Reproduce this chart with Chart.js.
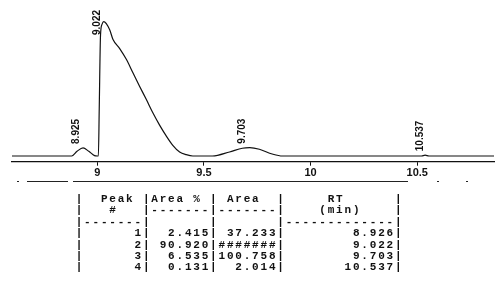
<!DOCTYPE html>
<html><head><meta charset="utf-8">
<script src="https://cdn.jsdelivr.net/npm/chart.js@4"></script>
<style>
html,body{margin:0;padding:0;background:#fff;}
#wrap{position:relative;width:495px;height:305px;overflow:hidden;background:#fff;}
#c{position:absolute;left:0;top:0;}
#tbl{position:absolute;left:75.7px;top:194px;margin:0;font:bold 11px 'Liberation Mono',monospace;letter-spacing:1.8px;line-height:11.4px;color:#111;white-space:pre;}
</style></head><body>
<div id="wrap"><canvas id="c" width="495" height="200" style="width:495px;height:200px"></canvas><pre id="tbl"></pre></div>
<script>
// Chromatogram trace (retention time in min, relative signal)
const times  = [8.60, 8.88, 8.905, 8.933, 8.96, 8.987, 9.000, 9.005, 9.009, 9.015, 9.022, 9.030, 9.058, 9.073, 9.105, 9.136, 9.167, 9.198, 9.230, 9.261, 9.292, 9.323, 9.354, 9.386, 9.417, 9.448, 9.540, 9.620, 9.680, 9.715, 9.760, 9.820, 9.868, 10.520, 10.537, 10.555, 10.86];
const signal = [0,    0,    3.5,   6,     3.5,  0.3,   0,     0,     35,    90,    98,    100,   94,    87,    80,    72,    62,    52,    42,    32,    23,    15,    8,     3,     1,     0,     0,     3,     5.8,   6.2,   5,     1.5,   0,     0,      0.6,    0,      0];
// Peak labels printed on the trace
const peakTimes  = [8.925, 9.022, 9.703, 10.537];
const peakLabels = ['8.925', '9.022', '9.703', '10.537'];
// Axis ticks
const axisTicks = [9, 9.5, 10, 10.5];
// Report table
const tblPeak    = ['1', '2', '3', '4'];
const tblAreaPct = ['2.415', '90.920', '6.535', '0.131'];
const tblArea    = ['37.233', '#######', '100.758', '2.014'];
const tblRT      = ['8.926', '9.022', '9.703', '10.537'];

const X_MIN = 8.6, X_MAX = 10.86;
const LOWER_RULE_DASH = [0,5, 2,8, 41,5, 335,29, 2,27, 2,40];

function lp(s, n){ s = String(s); while (s.length < n) s = ' ' + s; return s; }
const lines = [
  '|  Peak |Area % | Area  |     RT      |',
  '|   #   |-------|-------|    (min)    |',
  '|-------|       |       |-------------|'
];
for (let i = 0; i < tblPeak.length; i++) {
  lines.push('|' + lp(tblPeak[i],7) + '|' + lp(tblAreaPct[i],7) + '|' + lp(tblArea[i],7) + '|' + lp(tblRT[i],13) + '|');
}
document.getElementById('tbl').textContent = lines.join('\n');

function peakValue(t){
  let best = 0;
  for (let i = 0; i < times.length; i++) {
    if (Math.abs(times[i] - t) <= 0.03 && signal[i] > best) best = signal[i];
  }
  return best;
}

const peakLabelPlugin = {
  id: 'peakLabels',
  afterDatasetsDraw(chart){
    const ctx = chart.ctx, xs = chart.scales.x, ys = chart.scales.y, area = chart.chartArea;
    ctx.save();
    ctx.font = 'bold 10px "Liberation Sans", Arial, sans-serif';
    ctx.fillStyle = '#111';
    ctx.textAlign = 'left';
    ctx.textBaseline = 'alphabetic';
    peakLabels.forEach((lab, i) => {
      const px = xs.getPixelForValue(peakTimes[i]) - 2.5;
      const w = ctx.measureText(lab).width;
      let bottom = ys.getPixelForValue(peakValue(peakTimes[i])) - 4;
      if (bottom - w < area.top) bottom = area.top + w + 5;
      ctx.save();
      ctx.translate(px, bottom);
      ctx.rotate(-Math.PI / 2);
      ctx.fillText(lab, 0, 0);
      ctx.restore();
    });
    ctx.restore();
  }
};

// dashed rule along the top edge of the secondary (x2) axis
const lowerRulePlugin = {
  id: 'lowerRule',
  afterDraw(chart){
    const s = chart.scales.x2, ctx = chart.ctx;
    const y = Math.round(s.top) + 0.5;
    ctx.save();
    ctx.strokeStyle = '#222';
    ctx.lineWidth = 1.2;
    ctx.setLineDash(LOWER_RULE_DASH);
    ctx.beginPath();
    ctx.moveTo(s.left, y);
    ctx.lineTo(s.right, y);
    ctx.stroke();
    ctx.restore();
  }
};

new Chart(document.getElementById('c'), {
  type: 'line',
  data: {
    datasets: [{
      data: times.map((t, i) => ({x: t, y: signal[i]})),
      borderColor: '#111',
      borderWidth: 1.2,
      pointRadius: 0,
      cubicInterpolationMode: 'monotone',
      fill: false
    }]
  },
  options: {
    responsive: false,
    animation: false,
    events: [],
    layout: {padding: {left: 12, right: 1, top: 5, bottom: 0}},
    plugins: {legend: {display: false}, tooltip: {enabled: false}},
    scales: {
      x: {
        type: 'linear', position: 'bottom', min: X_MIN, max: X_MAX, weight: 0,
        afterBuildTicks: (s) => { s.ticks = axisTicks.map(v => ({value: v})); },
        afterFit: (s) => { s.height = 19.3; },
        ticks: {
          callback: (v) => String(v),
          color: '#111', padding: 1, maxRotation: 0, autoSkip: false,
          font: {family: '"Liberation Sans", Arial, sans-serif', size: 11, weight: 'bold'}
        },
        grid: {display: true, drawOnChartArea: false, drawTicks: true, tickLength: 4, color: '#111', lineWidth: 1},
        border: {display: true, color: '#111', width: 1.2}
      },
      x2: {
        type: 'linear', position: 'bottom', min: X_MIN, max: X_MAX, weight: 1,
        afterFit: (s) => { s.height = 19; },
        ticks: {display: false},
        grid: {display: false, drawTicks: false},
        border: {display: false}
      },
      y: {
        display: false, min: -4.24, max: 112.43
      }
    }
  },
  plugins: [peakLabelPlugin, lowerRulePlugin]
});
</script>
</body></html>
